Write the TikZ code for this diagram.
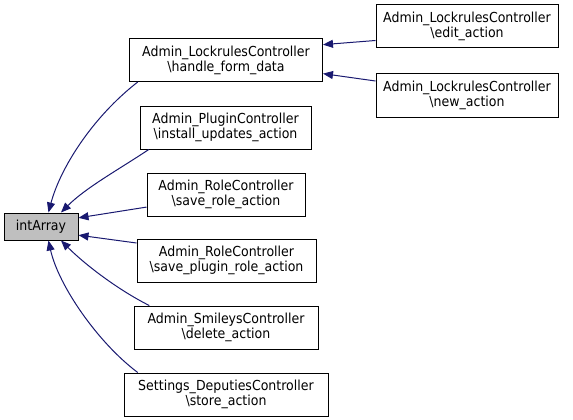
\documentclass[tikz,border=0pt]{standalone}
\usepackage{fontspec}
\setmainfont{DejaVu Sans}[FakeStretch=0.91]
\usetikzlibrary{arrows.meta}
\definecolor{edgeblue}{RGB}{25,25,112}
\definecolor{boxgray}{RGB}{191,191,191}

\begin{document}
\begin{tikzpicture}[x=1pt, y=-1pt, line width=1pt, >={Triangle[length=10pt,width=8pt]},
		fn/.style={draw, align=center, minimum height=43pt, inner sep=0pt,
			font=\fontsize{13.8}{15}\selectfont},
		call/.style={->, color=edgeblue}]
			\useasboundingbox (0,0) rectangle (573,420);

			% The function itself, on the left.
			\node[fn, fill=boxgray, minimum width=74pt, minimum height=27pt] (ia) at (41,226.5) {intArray};

			% Its direct callers.
			\node[fn, minimum width=193pt] (hfd) at (226,60) {Admin\_LockrulesController\\\textbackslash handle\_form\_data};
			\node[fn, minimum width=171pt] (ins) at (225.5,127.5) {Admin\_PluginController\\\textbackslash install\_updates\_action};
			\node[fn, minimum width=158pt] (srl) at (226,194.5) {Admin\_RoleController\\\textbackslash save\_role\_action};
			\node[fn, minimum width=179pt] (spr) at (226.5,260.5) {Admin\_RoleController\\\textbackslash save\_plugin\_role\_action};
			\node[fn, minimum width=184pt] (del) at (226,327.5) {Admin\_SmileysController\\\textbackslash delete\_action};
			\node[fn, minimum width=204pt] (sto) at (226,394.5) {Settings\_DeputiesController\\\textbackslash store\_action};

			% Callers of handle_form_data.
			\node[fn, minimum width=182pt] (edt) at (467,26) {Admin\_LockrulesController\\\textbackslash edit\_action};
			\node[fn, minimum width=182pt] (nw) at (467,95.5) {Admin\_LockrulesController\\\textbackslash new\_action};

			% Call edges into intArray.
			\draw[call] (hfd.194) .. controls +(-45,35) and +(12,-45) .. (ia.62);
			\draw[call] (ins.196) .. controls +(-30,20) and +(25,-25) .. (ia.35);
			\draw[call] (srl.189) -- (ia.13);
			\draw[call] (spr.169) -- (ia.-13);
			\draw[call] (del.164) .. controls +(-30,-15) and +(25,25) .. (ia.-35);
			\draw[call] (sto.166) .. controls +(-40,-30) and +(10,45) .. (ia.-62);

			% Call edges into handle_form_data.
			\draw[call] (edt.189) -- (hfd.9);
			\draw[call] (nw.171) -- (hfd.-8);
		\end{tikzpicture}
\end{document}
